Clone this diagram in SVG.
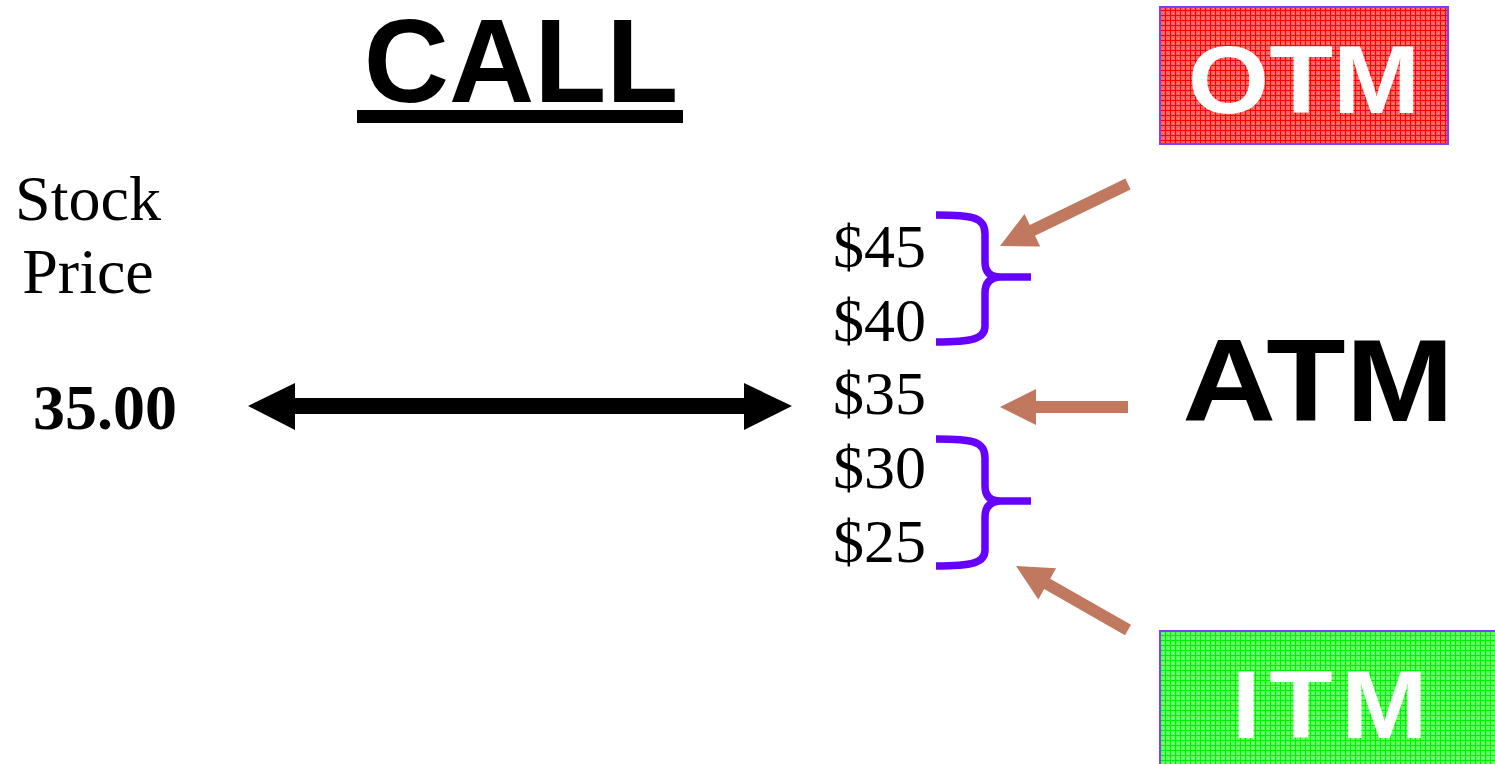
<svg xmlns="http://www.w3.org/2000/svg" width="1495" height="764" viewBox="0 0 1495 764">
  <style>
    .serif { font-family: "Liberation Serif", "Times New Roman", serif; fill: #000; }
    .sans { font-family: "Liberation Sans", Arial, sans-serif; font-weight: bold; }
    .price { font-size: 62px; }
    .brace { fill: none; stroke: #6600FF; stroke-width: 7.5; stroke-linejoin: round; }
    .pointer { fill: #C0785F; }
    .box { stroke: #7F3FFF; stroke-width: 2; }
  </style>
  <defs>
    <pattern id="redPat" width="5" height="5" patternUnits="userSpaceOnUse">
      <rect width="5" height="5" fill="#FF6060"/>
      <rect x="0" y="0" width="5" height="1" fill="#FF0000"/>
      <rect x="0" y="0" width="1" height="5" fill="#FF0000"/>
      <rect x="3" y="3" width="1" height="1" fill="#FF9A9A"/>
    </pattern>
    <pattern id="greenPat" width="5" height="5" patternUnits="userSpaceOnUse">
      <rect width="5" height="5" fill="#5CFF5C"/>
      <rect x="0" y="0" width="5" height="1" fill="#00EE00"/>
      <rect x="0" y="0" width="1" height="5" fill="#00EE00"/>
      <rect x="3" y="3" width="1" height="1" fill="#A0FFA0"/>
    </pattern>
  </defs>

  <g id="title">
    <text class="sans" x="521" y="102" font-size="118" text-anchor="middle" fill="#000">CALL</text>
    <rect x="357" y="110" width="326" height="13" fill="#000"/>
  </g>

  <g id="stock-price">
    <text class="serif" x="88" y="220" font-size="64" text-anchor="middle">Stock</text>
    <text class="serif" x="88" y="293" font-size="64" text-anchor="middle">Price</text>
    <text class="serif" x="33" y="429" font-size="64" font-weight="bold">35.00</text>
  </g>

  <g id="strikes">
    <text class="serif price" x="833" y="267">$45</text>
    <text class="serif price" x="833" y="341">$40</text>
    <text class="serif price" x="833" y="414">$35</text>
    <text class="serif price" x="833" y="488">$30</text>
    <text class="serif price" x="833" y="562">$25</text>
  </g>

  <g id="brace-otm">
    <path class="brace" d="M936,215 C972,215 985,217 985,234 L985,262 Q985,277 1000,277 L1031,277 M1000,277 Q985,278 985,293 L985,326 C985,339 972,342 936,342"/>
  </g>
  <g id="brace-itm">
    <path class="brace" d="M936,439 C972,439 985,441 985,458 L985,486 Q985,501 1000,501 L1031,501 M1000,501 Q985,502 985,517 L985,550 C985,563 972,566 936,566"/>
  </g>

  <g id="otm">
    <rect class="box" x="1160" y="7" width="288" height="137" fill="url(#redPat)"/>
    <text class="sans" transform="translate(1304,113) scale(1.09,1)" x="0" y="0" font-size="96" text-anchor="middle" fill="#FFFFFF">OTM</text>
  </g>

  <g id="atm">
    <text class="sans" transform="translate(1318,421) scale(1.12,1)" x="0" y="0" font-size="116" text-anchor="middle" fill="#000">ATM</text>
  </g>

  <g id="itm">
    <rect class="box" x="1160" y="631" width="340" height="140" fill="url(#greenPat)"/>
    <text class="sans" transform="translate(1334,738) scale(1.08,1)" x="0" y="0" font-size="96" letter-spacing="8" text-anchor="middle" fill="#FFFFFF">ITM</text>
  </g>

  <g id="connectors">
    <polygon points="248,406 295,383 295,398 744,398 744,383 792,406 744,430 744,414 295,414 295,430" fill="#000"/>
    <polygon class="pointer" points="1000,246 1040.2,246.5 1035,235.7 1130.6,189.4 1125.4,178.6 1029.8,224.9 1024.5,214.1"/>
    <polygon class="pointer" points="1000,407 1036,389 1036,401 1128,401 1128,413 1036,413 1036,425"/>
    <polygon class="pointer" points="1016,566 1056.1,568.3 1050.2,578.7 1131,624.8 1125,635.2 1044.2,589.1 1038.3,599.5"/>
  </g>
</svg>
